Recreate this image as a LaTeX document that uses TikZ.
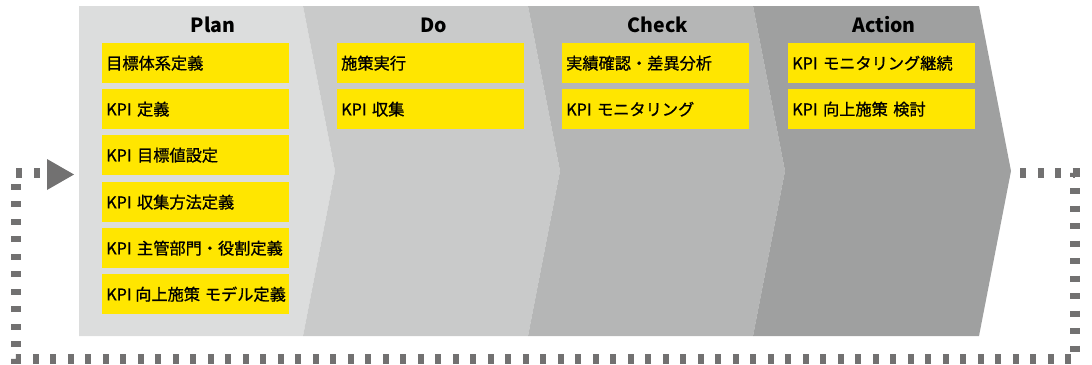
\documentclass[tikz,border=0pt]{standalone}
\usepackage{fontspec}
\setmainfont{Noto Sans CJK JP}
\newfontfamily\itemfont[FakeBold=0.9]{Noto Sans CJK JP}
\definecolor{plancol}{RGB}{220,221,221}
\definecolor{docol}{RGB}{201,202,202}
\definecolor{checkcol}{RGB}{181,182,182}
\definecolor{actcol}{RGB}{159,160,160}
\definecolor{itemyellow}{RGB}{255,230,0}
\definecolor{loopgray}{RGB}{114,113,113}
\begin{document}
\begin{tikzpicture}[x=1pt,y=-1pt,
  item/.style={fill=itemyellow, anchor=north west, minimum width=187pt, minimum height=40pt,
    inner xsep=4pt, inner ysep=0pt, text width=179pt, align=left,
    font=\itemfont\fontsize{16.2}{19}\selectfont},
  head/.style={font=\bfseries\fontsize{19.5}{22}\selectfont},
  loopline/.style={draw=loopgray, line width=10pt, dash pattern=on 6pt off 11.5pt}]
\useasboundingbox (0,0) rectangle (1092,364);
% chevrons
\fill[plancol] (79,6) -- (303,6) -- (335,171) -- (303,336) -- (79,336) -- cycle;
\fill[docol] (303,6) -- (528,6) -- (560,171) -- (528,336) -- (303,336) -- (335,171) -- cycle;
\fill[checkcol] (528,6) -- (753,6) -- (785,171) -- (753,336) -- (528,336) -- (560,171) -- cycle;
\fill[actcol] (753,6) -- (979,6) -- (1011,171) -- (979,336) -- (753,336) -- (785,171) -- cycle;
% headers
\node[head] (hplan) at (213,25) {Plan};
\node[head] (hdo) at (434,25) {Do};
\node[head] (hcheck) at (658,25) {Check};
\node[head] (hact) at (884,25) {Action};
% Plan items
\node[item] (p1) at (102,43) {目標体系定義};
\node[item] (p2) at (102,89) {KPI 定義};
\node[item] (p3) at (102,135) {KPI 目標値設定};
\node[item] (p4) at (102,182) {KPI 収集方法定義};
\node[item] (p5) at (102,228) {KPI 主管部門・役割定義};
\node[item] (p6) at (102,274) {\mbox{KPI\hspace{0.22em}向上施策\hspace{0.3em}モデル定義}};
% Do items
\node[item] (d1) at (337,43) {施策実行};
\node[item] (d2) at (337,89) {KPI 収集};
% Check items
\node[item] (c1) at (562,43) {実績確認・差異分析};
\node[item] (c2) at (562,89) {KPI モニタリング};
% Action items
\node[item] (a1) at (788,43) {KPI モニタリング継続};
\node[item] (a2) at (788,89) {KPI 向上施策 検討};
% feedback loop
\coordinate (ls) at (1020,173);
\coordinate (ne) at (1075,173);
\coordinate (se) at (1075,359);
\coordinate (sw) at (15.5,359);
\coordinate (nw) at (15.5,173);
\coordinate (le) at (40,173);
\draw[loopline] (ls) -- (ne) -- (se) -- (sw) -- (nw) -- (le);
\fill[loopgray] (47,159) coordinate (arrA) -- (74,174.5) coordinate (arrtip) -- (47,190) -- cycle;
\end{tikzpicture}
\end{document}
